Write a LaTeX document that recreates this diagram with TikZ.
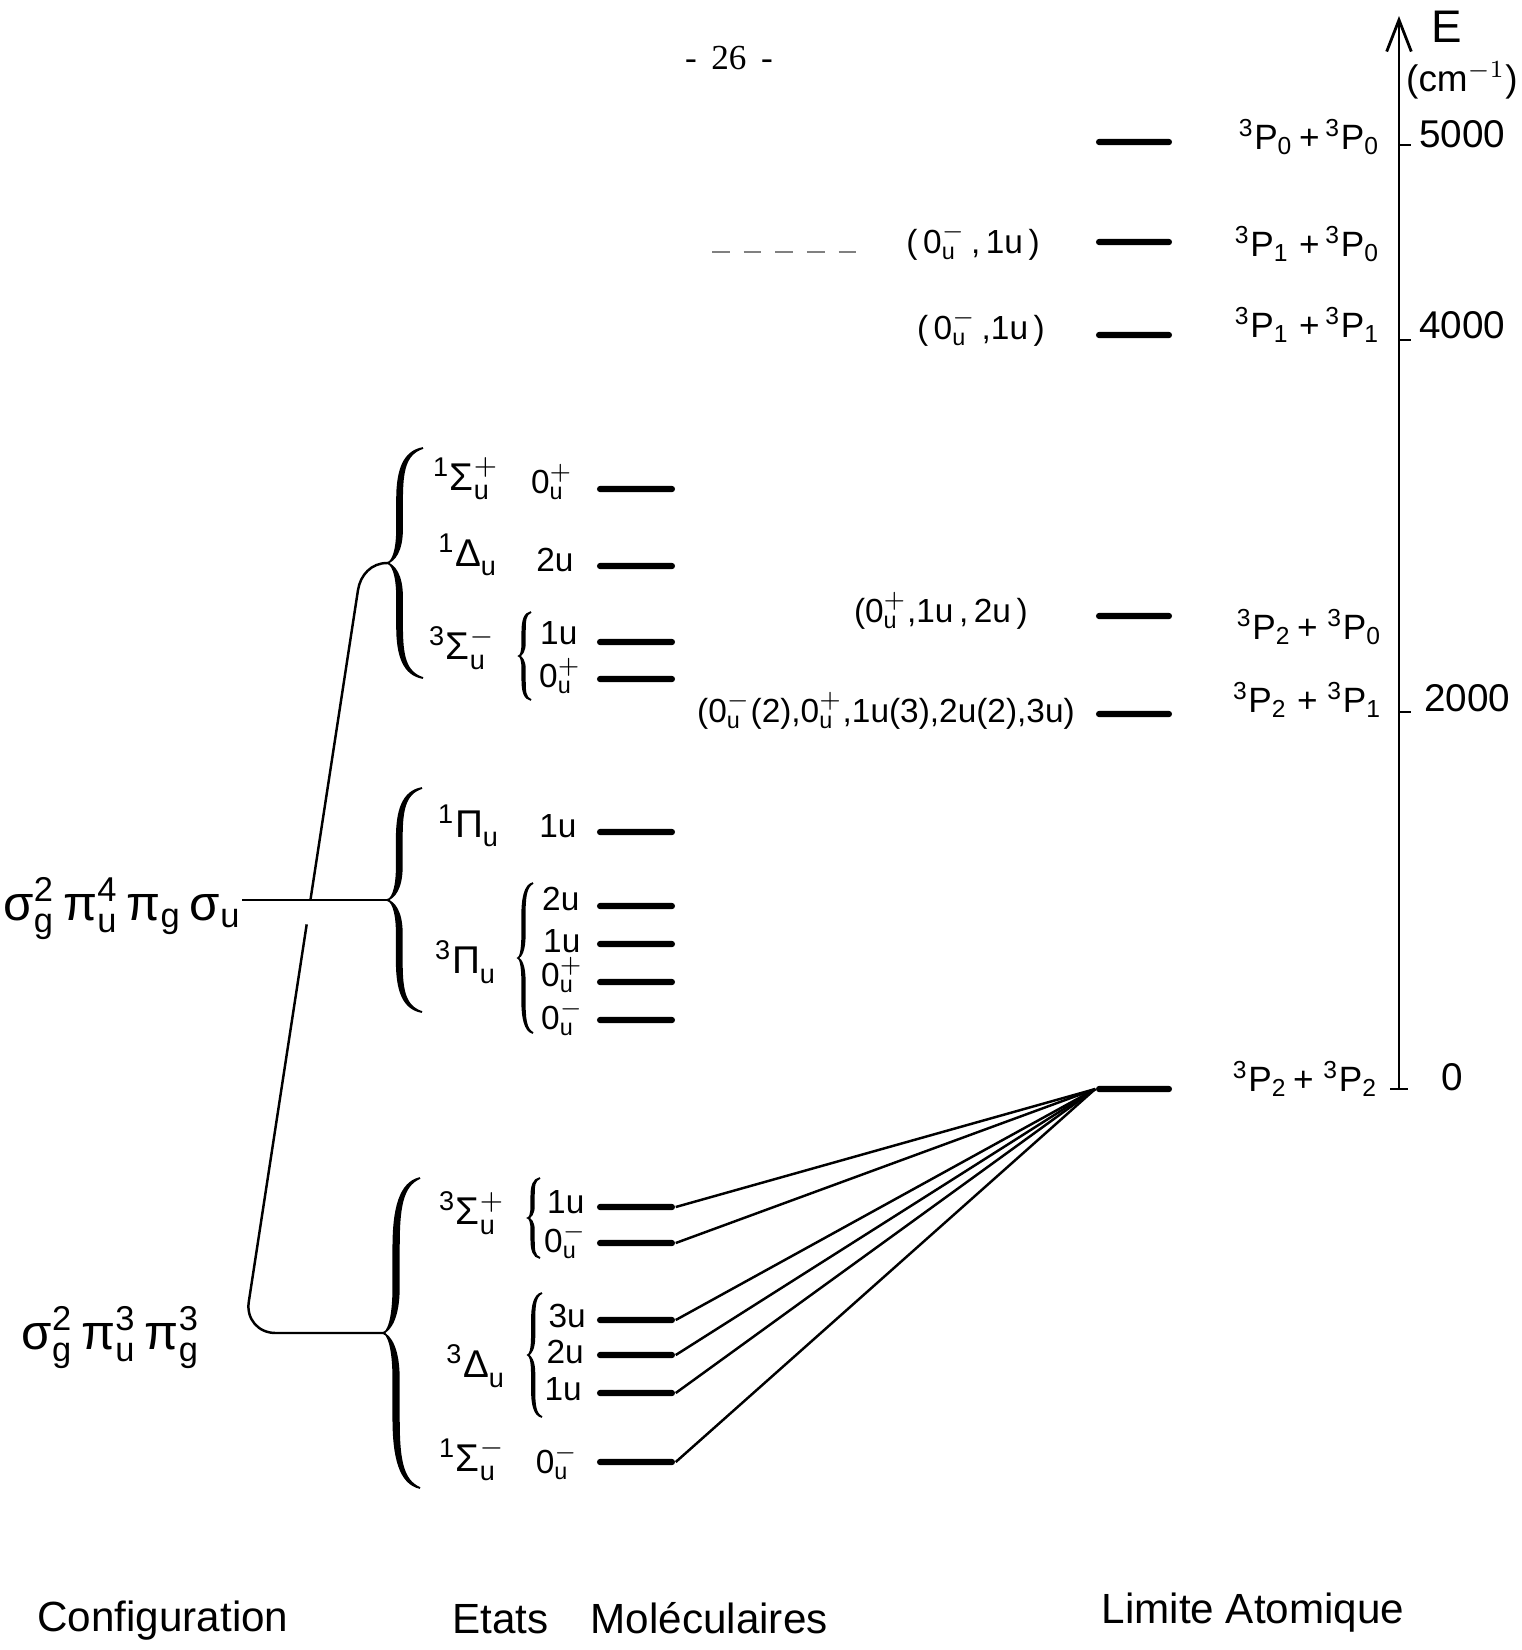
\documentclass[tikz,border=0pt]{standalone}
\usepackage{amsmath}
\usepackage{fontspec}
\setmainfont{Liberation Sans}
\newfontfamily\pgfont{Liberation Serif}
\usetikzlibrary{arrows.meta,calc}
\newcommand{\om}[3]{$\text{#1}^{#2}_{\text{#3}}$}
\newcommand{\tsym}[4]{$^{\text{#1}}\text{#2}^{#3}_{\text{#4}}$}
\newcommand{\pl}[1]{$^{\text{3}}\text{P}_{\text{#1}}$}
\newcommand{\curly}[6]{%
  \coordinate (#1) at (#2,#3);
  \filldraw[line width=0.5pt,shift={(#2,#3)}] (#5,-#4)
    .. controls (0.45*#5,-0.97*#4) and (0.28*#5,-0.8*#4) .. (0.28*#5,-0.55*#4)
    -- (0.28*#5,-0.3*#4) .. controls (0.28*#5,-0.08*#4) and (0.12*#5,0) .. (0,0)
    .. controls (0.12*#5,0) and (0.28*#5,0.08*#4) .. (0.28*#5,0.3*#4)
    -- (0.28*#5,0.55*#4) .. controls (0.28*#5,0.8*#4) and (0.45*#5,0.97*#4) .. (#5,#4)
    .. controls (0.5*#5,0.95*#4) and (0.28*#5+#6,0.8*#4) .. (0.28*#5+#6,0.55*#4)
    -- (0.28*#5+#6,0.3*#4) .. controls (0.28*#5+#6,0.1*#4) and (0.2*#5,0.02*#4) .. (0,0)
    .. controls (0.2*#5,-0.02*#4) and (0.28*#5+#6,-0.1*#4) .. (0.28*#5+#6,-0.3*#4)
    -- (0.28*#5+#6,-0.55*#4) .. controls (0.28*#5+#6,-0.8*#4) and (0.5*#5,-0.95*#4) .. (#5,-#4)
    -- cycle;}

\begin{document}
\begin{tikzpicture}[x=0.01cm,y=-0.01cm,
  lvl/.style={fill=black,inner sep=0pt,minimum width=0.78cm,minimum height=1.8pt,rounded corners=0.9pt},
  lim/.style={lvl,minimum width=0.76cm},
  trm/.style={font=\fontsize{11}{13}\selectfont,inner sep=1pt},
  omg/.style={font=\fontsize{9.5}{11}\selectfont,inner sep=1pt},
  atm/.style={font=\fontsize{10}{12}\selectfont,anchor=east,inner sep=1pt},
  num/.style={font=\fontsize{11}{13}\selectfont,anchor=west,inner sep=1pt},
  cfg/.style={font=\fontsize{14}{17}\selectfont,inner sep=0pt},
  capt/.style={font=\fontsize{12}{14}\selectfont},
  conn/.style={line width=0.7pt}]
\useasboundingbox (0,0) rectangle (1522,1650);

\node[font={\pgfont\fontsize{10}{12}\selectfont}] (pg) at (729,58) {- \,26\, -};

\coordinate (ax0) at (1399,1089);
\coordinate (axT) at (1399,16);
\draw[line width=0.8pt,-{Straight Barb[length=9pt,width=7pt]}] (ax0) -- (axT);
\foreach \y in {145,340,712} \draw[line width=0.7pt] (1399,\y) -- ++(12,0);
\draw[line width=0.8pt] (1390,1089) -- (1408,1089);
\node[font=\fontsize{13}{15}\selectfont] (eLb) at (1447,27) {E};
\node[font=\fontsize{10.5}{12}\selectfont] (uLb) at (1462,80) {(cm$^{-1}$)};
\node[num] (n5) at (1415,134) {5000};
\node[num] (n4) at (1415,325) {4000};
\node[num] (n2) at (1420,698) {2000};
\node[num] (n0) at (1437,1077) {0};

\foreach \n/\y in {aA/142,aB/242,aC/335,aD/616,aE/714,aF/1089}
  \node[lim] (\n) at (1134,\y) {};
\node[atm] (pA) at (1384,137) {\pl{0}\,+\,\pl{0}};
\node[atm] (pB) at (1384,244) {\pl{1}\;+\,\pl{0}};
\node[atm] (pC) at (1384,325) {\pl{1}\;+\,\pl{1}};
\node[atm] (pD) at (1386,627) {\pl{2}\,+\;\pl{0}};
\node[atm] (pE) at (1386,700) {\pl{2}\;+\;\pl{1}};
\node[atm] (pF) at (1382,1079) {\pl{2}\,+\;\pl{2}};

\node[omg,anchor=east] (cA) at (1044,242) {(\,\om{0}{-}{u}\,,\,1u\,)};
\node[omg,anchor=east] (cB) at (1049,328) {(\,\om{0}{-}{u}\,,1u\,)};
\node[omg,anchor=east] (cC) at (1032,611) {(\om{0}{+}{u},1u\,,\,2u\,)};
\node[omg,anchor=east] (cD) at (1079,711) {(\om{0}{-}{u}(2),\om{0}{+}{u},1u(3),2u(2),3u)};
\coordinate (dA) at (712,252);
\coordinate (dB) at (858,252);
\draw[gray,thin,dash pattern=on 5pt off 4pt] (dA) -- (dB);

\foreach \n/\y in {mA/489,mB/566,mC/642,mD/679,mE/832,mF/906,mG/944,mH/982,mI/1020,mJ/1207,mK/1243,mL/1320,mM/1355,mN/1393,mO/1462}
  \node[lvl] (\n) at (636,\y) {};
\foreach \n in {mJ,mK,mL,mM,mN,mO}
  \draw[conn] (\n.east) -- (aF.west);

\node[trm] (tA) at (466,479) {\tsym{1}{Σ}{+}{u}};
\node[omg] (oA) at (552,482) {\om{0}{+}{u}};
\node[trm] (tB) at (468,555) {\tsym{1}{Δ}{}{u}};
\node[omg] (oB) at (555,560) {2u};
\node[trm] (tC) at (462,648) {\tsym{3}{Σ}{-}{u}};
\node[omg,anchor=west] (oC) at (536,633) {1u};
\node[omg,anchor=west] (oD) at (535,676) {\om{0}{+}{u}};
\node[trm] (tE) at (469,826) {\tsym{1}{Π}{}{u}};
\node[omg] (oE) at (558,826) {1u};
\node[trm] (tF) at (466,962) {\tsym{3}{Π}{}{u}};
\node[omg,anchor=west] (oF) at (538,899) {2u};
\node[omg,anchor=west] (oG) at (539,941) {1u};
\node[omg,anchor=west] (oH) at (537,975) {\om{0}{+}{u}};
\node[omg,anchor=west] (oI) at (537,1018) {\om{0}{-}{u}};
\node[trm] (tJ) at (472,1213) {\tsym{3}{Σ}{+}{u}};
\node[omg,anchor=west] (oJ) at (543,1202) {1u};
\node[omg,anchor=west] (oK) at (540,1241) {\om{0}{-}{u}};
\node[trm] (tL) at (476,1366) {\tsym{3}{Δ}{}{u}};
\node[omg,anchor=east] (oL) at (590,1316) {3u};
\node[omg,anchor=east] (oM) at (588,1352) {2u};
\node[omg,anchor=east] (oN) at (586,1389) {1u};
\node[trm] (tO) at (472,1460) {\tsym{1}{Σ}{-}{u}};
\node[omg] (oO) at (557,1462) {\om{0}{-}{u}};

\curly{brT}{387}{563}{115}{36}{5}
\curly{brM}{387}{900}{112}{35}{5}
\curly{brB}{383}{1333}{155}{37}{5.5}
\curly{bS3}{519}{656}{44}{12}{2.5}
\curly{bP3}{518}{958}{75}{15}{2.5}
\curly{bS3p}{528}{1218}{40}{12}{2.5}
\curly{bD3}{528}{1355}{62}{14}{2.5}

\node[cfg,anchor=base east] (cfgA) at (242,920) {$\text{σ}^{\text{2}}_{\text{g}}\,\text{π}^{\text{4}}_{\text{u}}\,\text{π}_{\text{g}}\,\text{σ}_{\text{u}}$};
\node[cfg,anchor=base west] (cfgB) at (21,1349) {$\text{σ}^{\text{2}}_{\text{g}}\,\text{π}^{\text{3}}_{\text{u}}\,\text{π}^{\text{3}}_{\text{g}}$};
\draw[conn] (brM -| cfgA.east) -- (brM);
\coordinate (kB) at (244,1333);
\coordinate (kT) at (358,590);
\draw[conn,rounded corners=9pt] (brB) -- (kB) -- ($(kB)!0.55!(kT)$);
\draw[conn] ($(kB)!0.583!(kT)$) -- (kT) to[out=81,in=180] (brT);

\node[capt] (capC) at (163,1621) {Configuration};
\node[capt] (capE) at (640,1618) {Etats\hspace{12pt}Moléculaires};
\node[capt] (capL) at (1253,1613) {Limite Atomique};
\end{tikzpicture}
\end{document}
